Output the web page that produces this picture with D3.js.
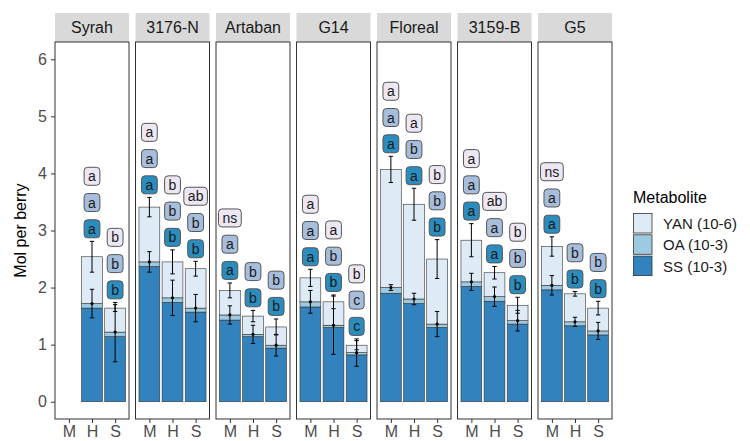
<html>

<head>
    <style>
        body { margin: 0; background: #fff; }
        text { font-family: Arial, "Liberation Sans", sans-serif; }
    </style>
</head>

<body>
    <script src="https://d3js.org/d3.v7.min.js"></script>
    <script>
        var width = 750,
            height = 441;

        // data (Mol per berry, stacked SS / OA / YAN)
        var genotypes = ["Syrah", "3176-N", "Artaban", "G14", "Floreal", "3159-B", "G5"];
        var stages = ["M", "H", "S"];
        var metabolites = ["YAN (10-6)", "OA (10-3)", "SS (10-3)"];

        var ss = [[null, 1.64, 1.14], [2.37, 1.74, 1.57], [1.43, 1.14, 0.94], [1.66, 1.30, 0.82],
                  [1.90, 1.72, 1.30], [2.02, 1.76, 1.36], [1.96, 1.33, 1.17]];
        var oa = [[null, 0.08, 0.08], [0.08, 0.08, 0.07], [0.09, 0.04, 0.05], [0.09, 0.04, 0.04],
                  [0.10, 0.08, 0.06], [0.08, 0.08, 0.06], [0.08, 0.07, 0.07]];
        var yan = [[null, 0.82, 0.42], [0.96, 0.63, 0.69], [0.43, 0.32, 0.32], [0.42, 0.41, 0.13],
                   [2.07, 1.66, 1.14], [0.73, 0.42, 0.27], [0.68, 0.49, 0.40]];
        // error bars: around SS+OA, and around the total
        var ssErr = [[null, 0.25, 0.52], [0.18, 0.31, 0.24], [0.16, 0.16, 0.19], [0.20, 0.51, 0.24],
                     [0.05, 0.10, 0.22], [0.15, 0.17, 0.18], [0.17, 0.08, 0.15]];
        var totErr = [[null, 0.27, 0.06], [0.17, 0.21, 0.13], [0.13, 0.10, 0.14], [0.15, 0.12, 0.08],
                      [0.23, 0.28, 0.34], [0.29, 0.11, 0.14], [0.17, 0.04, 0.12]];
        // significance letters
        var ssLet = [["", "a", "b"], ["a", "b", "b"], ["a", "b", "b"], ["a", "b", "c"],
                     ["a", "a", "b"], ["a", "a", "b"], ["a", "b", "b"]];
        var oaLet = [["", "a", "b"], ["a", "b", "b"], ["a", "b", "b"], ["a", "b", "c"],
                     ["a", "b", "b"], ["a", "a", "b"], ["a", "b", "b"]];
        var yanLet = [["", "a", "b"], ["a", "b", "ab"], ["ns", "", ""], ["a", "a", "b"],
                      ["a", "a", "b"], ["a", "ab", "b"], ["ns", "", ""]];
        var yTicks = [0, 1, 2, 3, 4, 5, 6];

        var barFill = { yan: "#deebf7", oa: "#9ecae1", ss: "#3182bd" };
        var labFill = { yan: "#ece7f2", oa: "#a6bddb", ss: "#2b8cbe" };

        var panelX0 = 55, panelW = 74, panelGap = 6.5,
            panelTop = 42, panelBottom = 419, stripTop = 13;

        var svg = d3.select("body")
            .append("svg")
            .attr("width", width)
            .attr("height", height);

        var y = d3.scaleLinear().domain([-0.303, 6.303]).range([panelBottom, panelTop]);
        var fx = d3.scaleBand().domain(genotypes)
            .range([panelX0, panelX0 + genotypes.length * panelW + (genotypes.length - 1) * panelGap])
            .paddingInner(panelGap / (panelW + panelGap));
        var x = d3.scalePoint().domain(stages).range([0, panelW]).padding(0.6);
        var barW = x.step() * 0.9;

        // y axis
        svg.append("g")
            .attr("transform", "translate(" + panelX0 + ",0)")
            .call(d3.axisLeft(y).tickValues(yTicks).tickFormat(d3.format("d")).tickSize(4).tickPadding(4))
            .call(function (g) {
                g.select(".domain").remove();
                g.selectAll(".tick line").attr("stroke", "#333");
                g.selectAll(".tick text").attr("fill", "#4d4d4d").style("font-size", "16px");
            });

        svg.append("text")
            .attr("transform", "translate(26," + ((panelTop + panelBottom) / 2) + ") rotate(-90)")
            .attr("text-anchor", "middle")
            .style("font-size", "16px")
            .attr("fill", "#000")
            .text("Mol per berry");

        genotypes.forEach(function (gname, gi) {
            var px = fx(gname);
            var g = svg.append("g").attr("transform", "translate(" + px + ",0)");

            // strip
            g.append("rect")
                .attr("x", 0).attr("y", stripTop)
                .attr("width", panelW).attr("height", panelTop - stripTop)
                .attr("fill", "#d9d9d9");
            g.append("text")
                .attr("x", panelW / 2).attr("y", 33)
                .attr("text-anchor", "middle")
                .style("font-size", "16px")
                .attr("fill", "#1a1a1a")
                .text(gname);

            // panel background
            g.append("rect")
                .attr("x", 0).attr("y", panelTop)
                .attr("width", panelW).attr("height", panelBottom - panelTop)
                .attr("fill", "#fff");

            // x axis
            var xa = g.append("g")
                .attr("transform", "translate(0," + panelBottom + ")")
                .call(d3.axisBottom(x).tickSize(4).tickPadding(3));
            xa.select(".domain").remove();
            xa.selectAll(".tick line").attr("stroke", "#333");
            xa.selectAll(".tick text").attr("fill", "#4d4d4d").style("font-size", "16px");

            var labelLayer = [];

            stages.forEach(function (st, si) {
                if (ss[gi][si] == null) return;
                var cx = x(st);
                var v1 = ss[gi][si],
                    v2 = v1 + oa[gi][si],
                    v3 = v2 + yan[gi][si];
                var segs = [
                    { a: 0, b: v1, f: barFill.ss },
                    { a: v1, b: v2, f: barFill.oa },
                    { a: v2, b: v3, f: barFill.yan }
                ];
                g.selectAll(null)
                    .data(segs)
                    .enter()
                    .append("rect")
                    .attr("x", cx - barW / 2)
                    .attr("width", barW)
                    .attr("y", function (d) { return y(d.b); })
                    .attr("height", function (d) { return y(d.a) - y(d.b); })
                    .attr("fill", function (d) { return d.f; })
                    .attr("stroke", "#333")
                    .attr("stroke-width", 0.6);

                // error bars
                var errs = [
                    { c: v2, e: ssErr[gi][si], dot: true },
                    { c: v3, e: totErr[gi][si], dot: false }
                ];
                errs.forEach(function (er) {
                    g.append("line")
                        .attr("x1", cx).attr("x2", cx)
                        .attr("y1", y(er.c - er.e)).attr("y2", y(er.c + er.e))
                        .attr("stroke", "#000").attr("stroke-width", 1);
                    [er.c - er.e, er.c + er.e].forEach(function (v) {
                        g.append("line")
                            .attr("x1", cx - 2.2).attr("x2", cx + 2.2)
                            .attr("y1", y(v)).attr("y2", y(v))
                            .attr("stroke", "#000").attr("stroke-width", 1);
                    });
                    if (er.dot) {
                        g.append("circle")
                            .attr("cx", cx).attr("cy", y(er.c))
                            .attr("r", 1.6).attr("fill", "#000");
                    }
                });

                // letters, stacked above the highest error bar
                var top = Math.max(v3 + totErr[gi][si], v2 + ssErr[gi][si]);
                [
                    { t: ssLet[gi][si], f: labFill.ss, v: top + 0.22 },
                    { t: oaLet[gi][si], f: labFill.oa, v: top + 0.68 },
                    { t: yanLet[gi][si], f: labFill.yan, v: top + 1.14 }
                ].forEach(function (lb) {
                    if (lb.t) labelLayer.push({ cx: cx, t: lb.t, f: lb.f, v: lb.v });
                });
            });

            // panel border on top of bars
            g.append("rect")
                .attr("x", 0).attr("y", panelTop)
                .attr("width", panelW).attr("height", panelBottom - panelTop)
                .attr("fill", "none")
                .attr("stroke", "#333")
                .attr("stroke-width", 1);

            // labels last, they may cross the border
            labelLayer.forEach(function (lb) {
                var lg = g.append("g").attr("transform", "translate(" + lb.cx + "," + y(lb.v) + ")");
                var bx = lg.append("rect");
                var tx = lg.append("text")
                    .attr("text-anchor", "middle")
                    .attr("y", 5)
                    .style("font-size", "14px")
                    .attr("fill", "#1a1a1a")
                    .text(lb.t);
                var w = tx.node().getComputedTextLength() + 8;
                bx.attr("x", -w / 2).attr("y", -9)
                    .attr("width", w).attr("height", 18)
                    .attr("rx", 3.5).attr("ry", 3.5)
                    .attr("fill", lb.f)
                    .attr("stroke", "#555")
                    .attr("stroke-width", 1);
            });
        });

        // legend
        var legend = svg.append("g").attr("transform", "translate(633,0)");
        legend.append("text")
            .attr("x", 0).attr("y", 203)
            .style("font-size", "16px")
            .attr("fill", "#000")
            .text("Metabolite");
        var keyFills = [barFill.yan, barFill.oa, barFill.ss];
        metabolites.forEach(function (m, i) {
            var ky = 213.5 + i * 21.3;
            legend.append("rect")
                .attr("x", 0.5).attr("y", ky)
                .attr("width", 18.5).attr("height", 19.5)
                .attr("fill", keyFills[i])
                .attr("stroke", "#333")
                .attr("stroke-width", 0.8);
            legend.append("text")
                .attr("x", 30).attr("y", ky + 15.5)
                .style("font-size", "15px")
                .attr("fill", "#1a1a1a")
                .text(m);
        });
    </script>
</body>

</html>
